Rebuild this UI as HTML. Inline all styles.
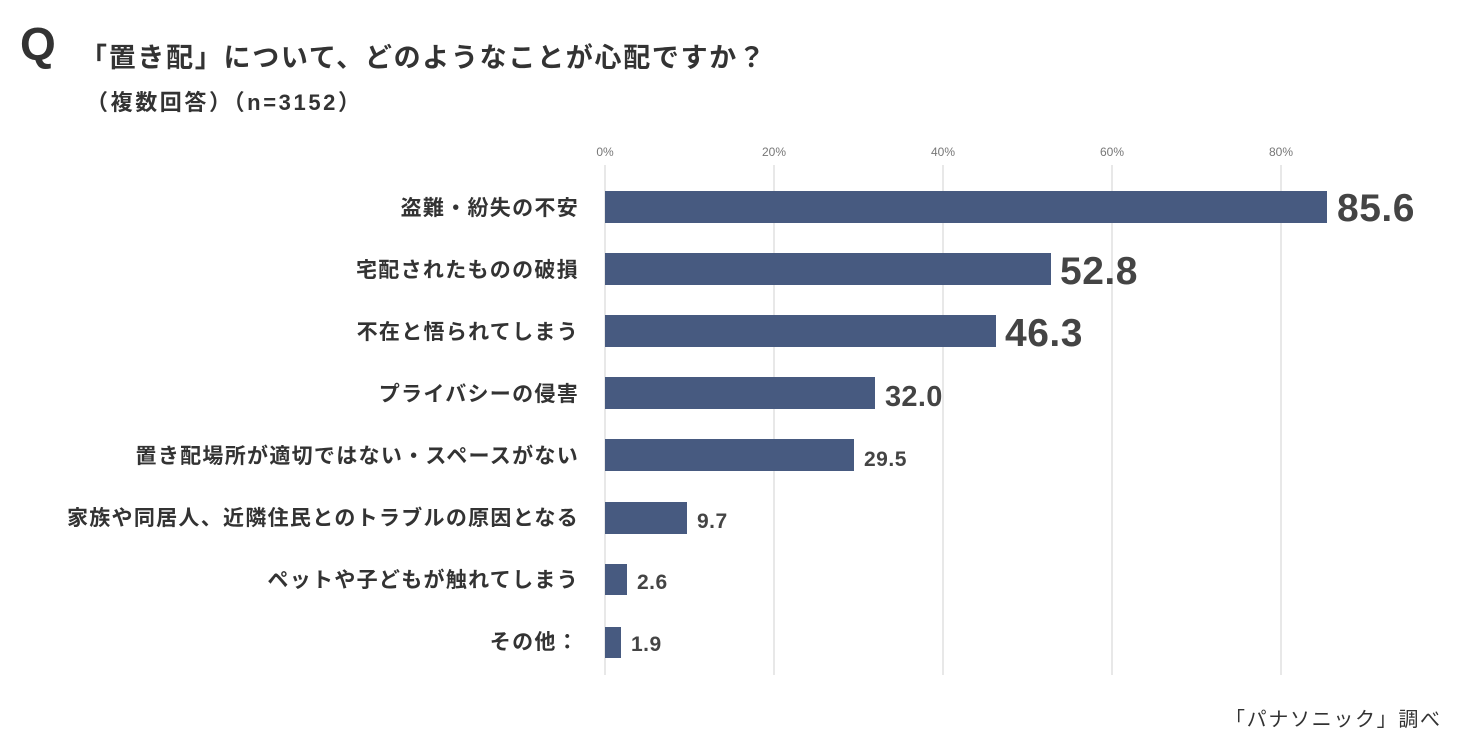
<!DOCTYPE html>
<html><head><meta charset="utf-8"><style>
body{margin:0;background:#fff;}
svg{display:block;font-family:"Liberation Sans","Noto Sans CJK JP",sans-serif;}
</style></head><body>
<svg width="1460" height="752" viewBox="0 0 1460 752">
<rect width="1460" height="752" fill="#fff"/>
<text x="20" y="60" font-size="46" font-weight="bold" fill="#333">Q</text>
<text x="80" y="67" font-size="27" font-weight="bold" fill="#333" textLength="685" lengthAdjust="spacing">「置き配」について、どのようなことが心配ですか？</text>
<text x="86" y="110" font-size="22" font-weight="bold" fill="#333" textLength="274" lengthAdjust="spacing">（複数回答）（n=3152）</text>
<g stroke="#e0e0e0" stroke-width="1.5">
<line x1="605" y1="165" x2="605" y2="675"/><line x1="774" y1="165" x2="774" y2="675"/>
<line x1="943" y1="165" x2="943" y2="675"/><line x1="1112" y1="165" x2="1112" y2="675"/>
<line x1="1281" y1="165" x2="1281" y2="675"/>
</g>
<g font-size="12" fill="#777" text-anchor="middle">
<text x="605" y="156">0%</text><text x="774" y="156">20%</text><text x="943" y="156">40%</text><text x="1112" y="156">60%</text><text x="1281" y="156">80%</text>
</g>
<g fill="#475a80">
<rect x="605" y="191" width="722" height="32"/>
<rect x="605" y="253" width="446" height="32"/>
<rect x="605" y="315" width="391" height="32"/>
<rect x="605" y="377" width="270" height="32"/>
<rect x="605" y="439" width="249" height="32"/>
<rect x="605" y="502" width="82" height="32"/>
<rect x="605" y="564" width="22" height="31"/>
<rect x="605" y="627" width="16" height="31"/>
</g>
<g font-size="21" font-weight="bold" fill="#333" letter-spacing="1.3" text-anchor="end">
<text x="579" y="215">盗難・紛失の不安</text>
<text x="579" y="277">宅配されたものの破損</text>
<text x="579" y="339">不在と悟られてしまう</text>
<text x="579" y="401">プライバシーの侵害</text>
<text x="579" y="463">置き配場所が適切ではない・スペースがない</text>
<text x="579" y="525">家族や同居人、近隣住民とのトラブルの原因となる</text>
<text x="579" y="587">ペットや子どもが触れてしまう</text>
<text x="579" y="649">その他：</text>
</g>
<g font-weight="bold" fill="#444">
<text x="1337" y="221" font-size="39" letter-spacing="0.5">85.6</text>
<text x="1060" y="284" font-size="39" letter-spacing="0.5">52.8</text>
<text x="1005" y="346" font-size="39" letter-spacing="0.5">46.3</text>
<text x="885" y="406" font-size="29" letter-spacing="0.3">32.0</text>
<text x="864" y="466" font-size="21" letter-spacing="0.5">29.5</text>
<text x="697" y="528" font-size="21" letter-spacing="0.5">9.7</text>
<text x="637" y="589" font-size="21" letter-spacing="0.5">2.6</text>
<text x="631" y="651" font-size="21" letter-spacing="0.5">1.9</text>
</g>
<text x="1225" y="726" font-size="20" fill="#333" textLength="215" lengthAdjust="spacing">「パナソニック」調べ</text>
</svg>
</body></html>
